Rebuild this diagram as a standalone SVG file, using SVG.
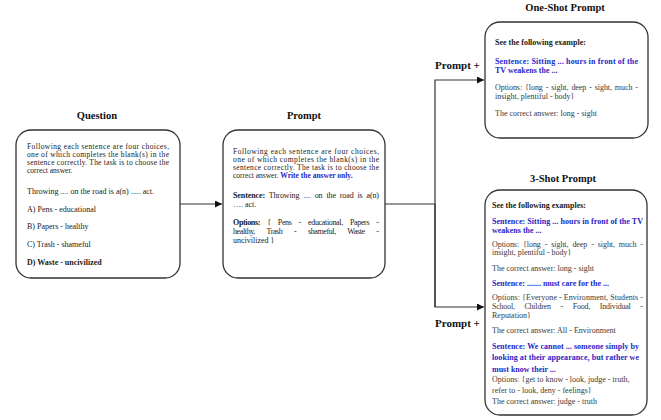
<svg xmlns="http://www.w3.org/2000/svg" width="661" height="420" viewBox="0 0 661 420">
<style>
.box{fill:#fff;stroke:#333;stroke-width:1.3}
.title{font-family:"Liberation Serif","Times New Roman",serif;font-weight:bold;font-size:10.5px;fill:#111;text-anchor:middle}
.lbl{font-family:"Liberation Serif","Times New Roman",serif;font-weight:bold;font-size:11px;fill:#111}
.t{font-family:"Liberation Serif","Times New Roman",serif;font-size:8px;fill:#1a1a1a}
.s{font-size:7.5px}
.g{fill:#3a3a3a}
.b{font-weight:bold}
.blue{fill:#2626c8;font-weight:bold}
.conn{fill:none;stroke:#333;stroke-width:1.2}
</style>
<defs>
<marker id="ah" viewBox="0 0 10 10" refX="10" refY="5" markerWidth="7" markerHeight="7" markerUnits="userSpaceOnUse" orient="auto">
<path d="M0,0 L10,5 L0,10 z" fill="#111"/>
</marker>
</defs>
<g id="connectors">
<line class="conn" x1="180" y1="204" x2="222" y2="204" marker-end="url(#ah)"/>
<polyline class="conn" points="385,204 435,204"/>
<polyline class="conn" points="435,307 435,80 484,80" marker-end="url(#ah)"/>
<polyline class="conn" points="435,204 435,307 484,307" marker-end="url(#ah)"/>
<text class="lbl" x="435" y="69">Prompt +</text>
<text class="lbl" x="435" y="327">Prompt +</text>
</g>
<g id="question">
<text class="title" x="97" y="119">Question</text>
<rect class="box" x="16" y="130" width="164" height="148" rx="15"/>
<text class="t s" x="27" y="148.5" textLength="142" lengthAdjust="spacing">Following each sentence are four choices,</text>
<text class="t s" x="27" y="156.5" textLength="142" lengthAdjust="spacing">one of which completes the blank(s) in the</text>
<text class="t s" x="27" y="164.5" textLength="142" lengthAdjust="spacing">sentence correctly. The task is to choose the</text>
<text class="t s" x="27" y="172.5">correct answer.</text>
<text class="t" x="27" y="193.5">Throwing .... on the road is a(n) ..... act.</text>
<text class="t" x="27" y="211.5">A) Pens - educational</text>
<text class="t" x="27" y="229">B) Papers - healthy</text>
<text class="t" x="27" y="246.5">C) Trash - shameful</text>
<text class="t b" x="27" y="264.5">D) Waste - uncivilized</text>
</g>
<g id="prompt">
<text class="title" x="304" y="119">Prompt</text>
<rect class="box" x="223" y="130" width="162" height="148" rx="15"/>
<text class="t s" x="233" y="153.5" textLength="146" lengthAdjust="spacing">Following each sentence are four choices,</text>
<text class="t s" x="233" y="161.5" textLength="146" lengthAdjust="spacing">one of which completes the blank(s) in the</text>
<text class="t s" x="233" y="169.5" textLength="146" lengthAdjust="spacing">sentence correctly. The task is to choose the</text>
<text class="t s" x="233" y="177.5">correct answer. <tspan class="blue">Write the answer only.</tspan></text>
<text class="t" x="233" y="197.5" textLength="146" lengthAdjust="spacing" word-spacing="2"><tspan class="b">Sentence:</tspan> Throwing .... on the road is a(n)</text>
<text class="t" x="233" y="206.5">…. act.</text>
<text class="t" x="233" y="225" textLength="146" lengthAdjust="spacing" word-spacing="5.5"><tspan class="b">Options:</tspan> { Pens - educational, Papers -</text>
<text class="t" x="233" y="234" textLength="146" lengthAdjust="spacing" word-spacing="10">healthy, Trash - shameful, Waste -</text>
<text class="t" x="233" y="242.5">uncivilized }</text>
</g>
<g id="one-shot">
<text class="title" x="565" y="11">One-Shot Prompt</text>
<rect class="box" x="485" y="22" width="163" height="116" rx="15"/>
<text class="t b" x="495" y="45">See the following example:</text>
<text class="t blue" x="495" y="63.5" textLength="143" lengthAdjust="spacing">Sentence: Sitting ... hours in front of the</text>
<text class="t blue" x="495" y="72.5">TV weakens the ...</text>
<text class="t g" x="495" y="89.8" textLength="143" lengthAdjust="spacing" word-spacing="1">Options: {long - sight, deep - sight, much -</text>
<text class="t g" x="495" y="99">insight, plentiful - body}</text>
<text class="t g" x="495" y="115.8">The correct answer: long - sight</text>
</g>
<g id="three-shot">
<text class="title" x="563" y="182">3-Shot Prompt</text>
<rect class="box" x="485" y="190" width="162" height="225" rx="15"/>
<text class="t b" x="492" y="207.5">See the following examples:</text>
<text class="t blue" x="492" y="224" textLength="151" lengthAdjust="spacing">Sentence: Sitting ... hours in front of the TV</text>
<text class="t blue" x="492" y="233">weakens the ...</text>
<text class="t g" x="492" y="246.5" textLength="151" lengthAdjust="spacing" word-spacing="2">Options: {long - sight, deep - sight, much -</text>
<text class="t g" x="492" y="255">insight, plentiful - body}</text>
<text class="t g" x="492" y="270.8">The correct answer: long - sight</text>
<text class="t blue" x="492" y="285.8">Sentence: ....... must care for the ...</text>
<text class="t g" x="492" y="299.8" textLength="151" lengthAdjust="spacing">Options: {Everyone - Environment, Students -</text>
<text class="t g" x="492" y="309" textLength="151" lengthAdjust="spacing" word-spacing="8">School, Children - Food, Individual -</text>
<text class="t g" x="492" y="317.5">Reputation}</text>
<text class="t g" x="492" y="333.2">The correct answer: All - Environment</text>
<text class="t blue" x="492" y="348.5" textLength="147" lengthAdjust="spacing">Sentence: We cannot ... someone simply by</text>
<text class="t blue" x="492" y="360.2" textLength="147" lengthAdjust="spacing">looking at their appearance, but rather we</text>
<text class="t blue" x="492" y="371.8">must know their ...</text>
<text class="t g" x="492" y="381.8">Options: {get to know - look, judge - truth,</text>
<text class="t g" x="492" y="393.2">refer to - look, deny - feelings}</text>
<text class="t g" x="492" y="403.5">The correct answer: judge - truth</text>
</g>
</svg>
